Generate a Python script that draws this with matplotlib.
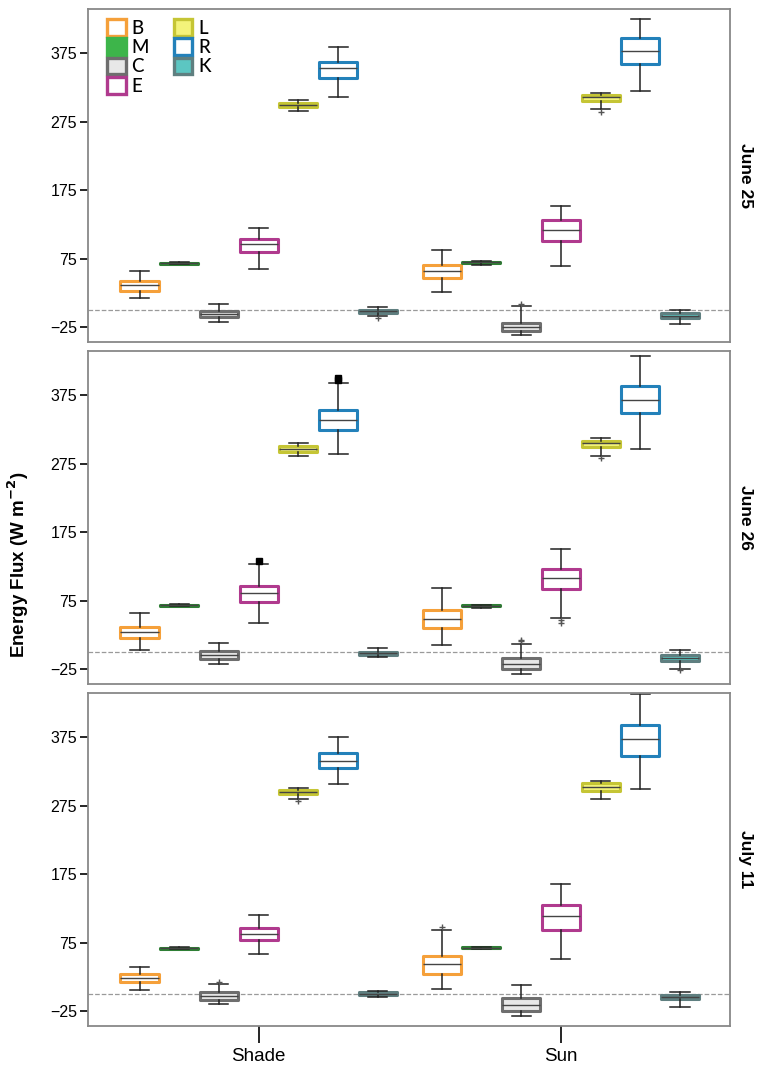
import matplotlib.pyplot as plt
from matplotlib.patches import Patch

plt.rcParams['font.family'] = ['Liberation Sans', 'DejaVu Sans']

series = ['B', 'M', 'C', 'E', 'L', 'R', 'K']
groups = ['Shade', 'Sun']
panels = ['June 25', 'June 26', 'July 11']

# (whisker low, q1, median, q3, whisker high) for each series, in series order
june25_shade = [(18, 28, 36, 42, 57), (67, 67.5, 68, 68.7, 69.5), (-18, -11, -6.5, -1.5, 8),
                (60, 84, 96, 103, 119), (291, 296, 300, 303, 307), (312, 339, 353, 363, 385),
                (-9, -4, -1.5, 0.5, 3.5)]
june25_sun = [(26, 47, 57, 66, 88), (65, 68.5, 69.5, 70.5, 71.5), (-37, -31, -25, -18.5, 5),
              (64, 101, 117, 131, 151.5), (294, 306, 311, 314.5, 317.5), (320, 360, 379, 397, 425),
              (-20, -12, -9, -5, -0.5)]
june26_shade = [(3, 21, 29, 37, 57), (67, 67.5, 68.3, 69, 69.5), (-18, -10, -4.5, 1, 13.5),
                (42, 73, 86, 96, 129), (287, 293, 297, 301, 305), (289, 325, 339, 353, 393),
                (-8, -4, -1.5, 0.5, 5)]
june26_sun = [(10.5, 35, 48, 61, 93), (64, 66.5, 67.5, 68.5, 69), (-33, -25, -18, -8.5, 12),
              (49, 92, 108, 121.5, 151), (287, 299, 305, 309, 313), (297, 350, 369, 389, 432),
              (-25, -12.7, -8.4, -4.4, 3.4)]
july11_shade = [(5, 17, 23, 29.5, 39), (65, 66, 66.5, 67.3, 68), (-15, -8.7, -3.3, 2, 14.6),
                (58, 79, 88, 97, 115), (285, 292, 295, 298, 301), (307, 330, 341, 352, 375),
                (-4.6, -1.7, 0.2, 2.2, 4.6)]
july11_sun = [(7, 29.5, 43, 56, 93), (66, 67, 67.5, 68.3, 69), (-32, -25, -17, -6, 13.6),
              (51, 93, 114, 130, 160), (285.5, 297, 303, 308, 311), (299, 348, 373, 393.5, 438),
              (-18.5, -7.7, -4, -1.5, 3.4)]

# outlying points
outliers = {
    ('June 25', 'Shade', 'K'): [-11.5],
    ('June 25', 'Sun', 'C'): [8],
    ('June 25', 'Sun', 'L'): [290],
    ('June 26', 'Shade', 'E'): [133],
    ('June 26', 'Shade', 'R'): [397, 401],
    ('June 26', 'Sun', 'C'): [16, 18],
    ('June 26', 'Sun', 'E'): [46, 42.5],
    ('June 26', 'Sun', 'L'): [284],
    ('June 26', 'Sun', 'K'): [-26],
    ('July 11', 'Shade', 'C'): [17.5],
    ('July 11', 'Shade', 'L'): [282],
    ('July 11', 'Sun', 'B'): [97.5],
}
solid_fliers = {('June 26', 'Shade', 'E'), ('June 26', 'Shade', 'R')}

data = {
    'June 25': (june25_shade, june25_sun),
    'June 26': (june26_shade, june26_sun),
    'July 11': (july11_shade, july11_sun),
}

edge = {'B': '#F5A03A', 'M': '#2F7F35', 'C': '#6E6E6E', 'E': '#B03A8E',
        'L': '#C5C535', 'R': '#2381BA', 'K': '#5F7F80'}
fill = {'B': 'white', 'M': '#3DB54A', 'C': '#E8E8E8', 'E': 'white',
        'L': '#F3F37A', 'R': 'white', 'K': '#5CC6C2'}
legend_edge = dict(edge, M='#3DB54A')

W, H = 761, 1066
left, right = 88, 730
tops = [9, 351, 693]
ph = 333
step = 0.1315
bw = 0.126

fig = plt.figure(figsize=(W / 100, H / 100), dpi=100)

axes = []
for i, name in enumerate(panels):
    ax = fig.add_axes([left / W, 1 - (tops[i] + ph) / H, (right - left) / W, ph / H])
    axes.append(ax)
    ax.axhline(0, color='#9a9a9a', linestyle='--', linewidth=0.9, zorder=0.5)
    for g, gname in enumerate(groups):
        rows = data[name][g]
        for j, s in enumerate(series):
            lo, q1, med, q3, hi = rows[j]
            stats = [dict(whislo=lo, q1=q1, med=med, q3=q3, whishi=hi,
                          fliers=outliers.get((name, gname, s), []))]
            solid = (name, gname, s) in solid_fliers
            ax.bxp(stats, positions=[g + (j - 3) * step], widths=bw, capwidths=bw * 0.5,
                   patch_artist=True, manage_ticks=False,
                   boxprops=dict(facecolor=fill[s], edgecolor=edge[s], linewidth=2.2,
                                 joinstyle='round'),
                   medianprops=dict(color='#444444', linewidth=1.0),
                   whiskerprops=dict(color='#222222', linewidth=1.1),
                   capprops=dict(color='#222222', linewidth=1.1),
                   flierprops=dict(marker='s' if solid else '+', markersize=5,
                                   markerfacecolor='black',
                                   markeredgecolor='black' if solid else '#555555',
                                   markeredgewidth=1.0))

    ax.set_xlim(-0.565, 1.56)
    ax.set_ylim(-47, 440)
    ax.set_yticks([-25, 75, 175, 275, 375])
    ax.set_xticks([0, 1])
    ax.tick_params(axis='y', length=6, width=1.2, labelsize=11.5, color='black', pad=2)
    ax.tick_params(axis='x', length=12, width=1.2, labelsize=13.5, color='black', pad=4)
    if i < 2:
        ax.set_xticklabels([])
        ax.tick_params(axis='x', length=0)
    else:
        ax.set_xticklabels(groups)
    for sp in ax.spines.values():
        sp.set_color('#888888')
        sp.set_linewidth(1.3)
    ax.text(1 + 8 / (right - left), 0.5, name, transform=ax.transAxes, rotation=-90,
            ha='left', va='center', fontsize=12.5, fontweight='bold')

handles = [Patch(facecolor=fill[s], edgecolor=legend_edge[s], linewidth=2.4, label=s) for s in series]
axes[0].legend(handles=handles, ncol=2, loc='upper left',
               bbox_to_anchor=((107 - left) / (right - left), 1 - (19 - tops[0]) / ph),
               frameon=False, borderpad=0, borderaxespad=0,
               handlelength=1.0, handleheight=1.0, handletextpad=0.3,
               labelspacing=0.08, columnspacing=1.33,
               prop={'family': 'Lato', 'size': 13.5, 'weight': 'medium'})

fig.text(18 / W, 1 - 565 / H, r'Energy Flux (W m$^{\mathbf{-2}}$)', rotation=90,
         ha='center', va='center', fontsize=13.5, fontweight='bold')

fig.savefig('out.png', dpi=100)
